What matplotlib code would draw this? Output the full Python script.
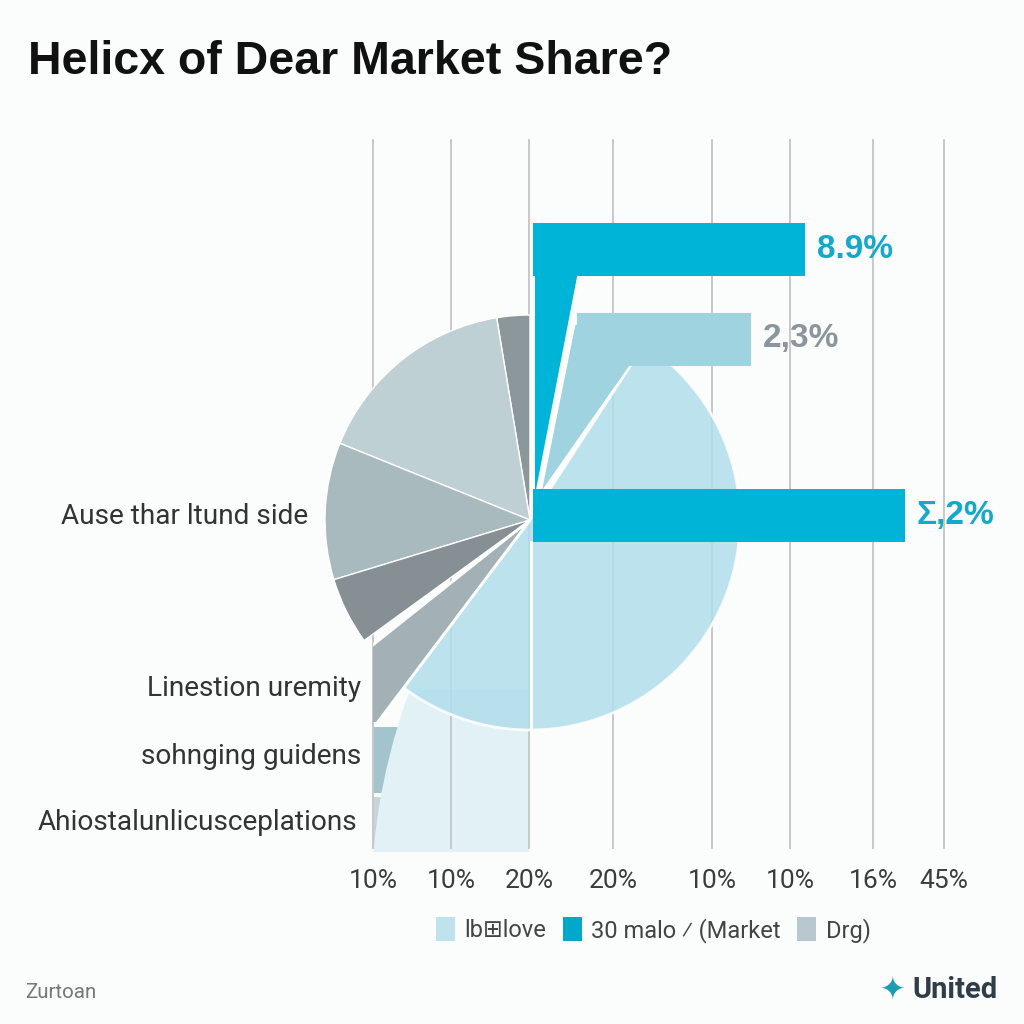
import matplotlib
matplotlib.use("Agg")
import matplotlib.pyplot as plt
from matplotlib.patches import Wedge, Rectangle, Circle, Patch

# ---- data ----
title = "Helicx of Dear Market Share?"
tick_labels = ["10%", "10%", "20%", "20%", "10%", "10%", "16%", "45%"]
bar_labels = ["8.9%", "2,3%", "Σ,2%"]
bar_lengths = [272, 174, 372]          # drawn length of the three bars
bar_offsets = [2, 46, 2]               # gap from the origin line
grey_shares = [2.6, 16.3, 10.8, 5.3]   # % of a full turn, from 12 o'clock ccw
disk_share = 51.1                      # big light-blue slice, % of a full turn
side_labels = ["Ause thar ltund side", "Linestion uremity",
               "sohnging guidens", "Ahiostalunlicusceplations"]
small_bar_lengths = [60, 40]
legend_labels = ["lb⊞love", "30 malo ⁄ (Market", "Drg)"]

# ---- layout / style ----
CYAN = "#00b4d8"
BLUE2 = "#a0d3e0"
DISK = "#b1deeb"
GREYS = ["#8c979c", "#bfd0d5", "#a9babf", "#858f94"]
grid_x = [373, 451, 529, 613, 712, 790, 873, 944]
origin = 531
cx, cy = 530, 504
bar_y = [774.5, 685, 508.5]
bar_h = 53

fig = plt.figure(figsize=(10.24, 10.24), dpi=100, facecolor="#fbfcfc")
ax = fig.add_axes([0, 0, 1, 1])
ax.set_xlim(0, 1024)
ax.set_ylim(0, 1024)
ax.axis("off")

# grid
for gx in grid_x:
    ax.plot([gx, gx], [176, 884], color="#c8c8c8", lw=1.4, zorder=3.5)
for gx, lab in zip(grid_x, tick_labels):
    ax.text(gx, 143, lab, ha="center", va="center", fontsize=19,
            family="Roboto", color="#3c3c3c")

# small bars bottom-left
ax.barh([264, 203], small_bar_lengths, height=[66, 48], left=373,
        color=["#a4c4cd", "#c6d4d8"], zorder=2)

# very light panel with curved left edge
pane = Rectangle((373, 172), 156, 162, facecolor="#e2f1f6",
                 edgecolor="none", zorder=3)
ax.add_patch(pane)
pane.set_clip_path(Circle((996, 117), 625, transform=ax.transData))

# big light-blue slice
t1 = 233
ax.add_patch(Wedge((cx, cy), 210, t1, t1 + disk_share * 3.6,
                   facecolor=DISK, alpha=0.85, edgecolor="white", lw=2, zorder=4))
ax.plot([origin, origin], [294, 482], color="white", lw=2, zorder=4.5)

# grey slices of the left pie
start = 90
for share, col in zip(grey_shares, GREYS):
    ax.add_patch(Wedge((cx, cy), 205, start, start + share * 3.6,
                       facecolor=col, edgecolor="white", lw=1, zorder=5))
    start += share * 3.6
# clipped grey slice below the gap
lower = Wedge((cx, cy), 300, 218.5, 233, facecolor="#a3b1b6",
              edgecolor="white", lw=2, zorder=5)
ax.add_patch(lower)
lower.set_clip_path(Rectangle((373, 302), 300, 400, transform=ax.transData))

# bars and their joins
ax.add_patch(Wedge((535, 529), 272, 79.1, 90, facecolor=CYAN,
                   edgecolor="none", zorder=6))
ax.add_patch(Wedge((540, 529), 175, 55, 78.6, facecolor=BLUE2,
                   edgecolor="white", lw=1.5, zorder=6))
bar_cols = [CYAN, BLUE2, CYAN]
ax.barh(bar_y, bar_lengths, height=bar_h,
        left=[origin + o for o in bar_offsets], color=bar_cols, zorder=7)
lab_cols = ["#14a8cc", "#8a969c", "#14a8cc"]
for y, ln, o, lab, c in zip(bar_y, bar_lengths, bar_offsets, bar_labels, lab_cols):
    ax.text(origin + o + ln + 12, y, lab, ha="left", va="center", fontsize=24,
            fontweight="bold", family=["Liberation Sans", "DejaVu Sans"], color=c, zorder=8)

# side labels
for (x, y), lab in zip([(308, 508), (361, 335), (361, 268), (357, 201)], side_labels):
    ax.text(x, y, lab, ha="right", va="center", fontsize=20.2, family="Roboto",
            color="#333333")

# title
fig.text(28 / 1024, 1 - 62 / 1024, title, ha="left", va="center", fontsize=33.5,
         fontweight="bold", family="Liberation Sans", color="#111111")

# legend
handles = [Patch(facecolor=c) for c in ["#bfe3ee", "#00a9cc", "#b8c8ce"]]
leg = ax.legend(handles, legend_labels, ncol=3, loc="center",
                bbox_to_anchor=(0.638, 1 - 930 / 1024), frameon=False,
                handlelength=0.8, handleheight=1.2, handletextpad=0.4,
                columnspacing=0.7, prop={"family": ["Roboto", "DejaVu Sans"], "size": 17})
for t in leg.get_texts():
    t.set_color("#444444")

# footer
fig.text(25 / 1024, 1 - 992 / 1024, "Zurtoan", ha="left", va="center",
         fontsize=14.8, family="Roboto", color="#777777")
fig.text(880 / 1024, 1 - 990 / 1024, "✦", ha="left", va="center",
         fontsize=22, family="DejaVu Sans", color="#1c9db5")
fig.text(998 / 1024, 1 - 990 / 1024, "United", ha="right", va="center",
         fontsize=21, fontweight="bold", family="Roboto", color="#2e3d48")

fig.savefig("out.png", dpi=100, facecolor=fig.get_facecolor())
